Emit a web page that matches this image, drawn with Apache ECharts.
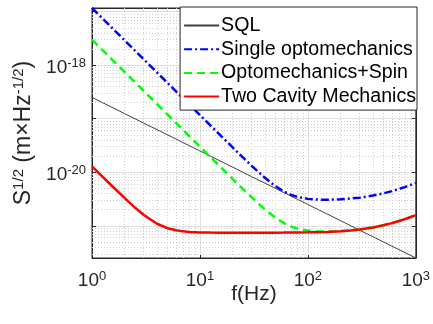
<!DOCTYPE html>
<html>
<head>
<meta charset="utf-8">
<script src="https://cdn.jsdelivr.net/npm/echarts@6/dist/echarts.min.js"></script>
<style>
  html, body { margin: 0; padding: 0; background: #fff; }
  #chart { width: 433px; height: 324px; }
</style>
</head>
<body>
<div id="chart"></div>
<script>
  const freq = [1, 1.25, 1.5, 2, 2.5, 3, 4, 5, 6, 7, 8, 10, 12.5, 15, 20, 25, 30, 40, 50, 60, 70, 80,
    100, 125, 150, 200, 250, 300, 400, 500, 600, 700, 800, 1000];

  // S^1/2 in m/sqrt(Hz)
  const sql = [2.5e-19, 2.0e-19, 1.67e-19, 1.25e-19, 1.0e-19, 8.3e-20, 6.25e-20, 5.0e-20, 4.17e-20, 3.57e-20,
    3.13e-20, 2.5e-20, 2.0e-20, 1.67e-20, 1.25e-20, 1.0e-20, 8.3e-21, 6.25e-21, 5.0e-21, 4.17e-21, 3.57e-21,
    3.13e-21, 2.5e-21, 2.0e-21, 1.67e-21, 1.25e-21, 1.0e-21, 8.3e-22, 6.25e-22, 5.0e-22, 4.17e-22, 3.57e-22,
    3.13e-22, 2.5e-22];

  const single = [1.17e-17, 7.49e-18, 5.2e-18, 2.93e-18, 1.87e-18, 1.3e-18, 7.31e-19, 4.68e-19, 3.25e-19, 2.39e-19,
    1.83e-19, 1.17e-19, 7.5e-20, 5.21e-20, 2.94e-20, 1.89e-20, 1.33e-20, 7.87e-21, 5.51e-21, 4.37e-21, 3.78e-21,
    3.46e-21, 3.18e-21, 3.08e-21, 3.06e-21, 3.12e-21, 3.23e-21, 3.35e-21, 3.67e-21, 4.03e-21, 4.44e-21, 4.88e-21,
    5.34e-21, 6.31e-21];

  const spin = [3.0e-18, 1.92e-18, 1.33e-18, 7.5e-19, 4.8e-19, 3.33e-19, 1.875e-19, 1.2e-19, 8.33e-20, 6.12e-20,
    4.69e-20, 3.0e-20, 1.92e-20, 1.34e-20, 7.54e-21, 4.86e-21, 3.42e-21, 2.02e-21, 1.41e-21, 1.12e-21, 9.66e-22,
    8.83e-22, 8.11e-22, 7.85e-22, 7.81e-22, 7.91e-22, 8.19e-22, 8.51e-22, 9.28e-22, 1.02e-21, 1.12e-21, 1.23e-21,
    1.34e-21, 1.58e-21];

  const twoCavity = [1.29e-20, 8.29e-21, 5.78e-21, 3.31e-21, 2.19e-21, 1.61e-21, 1.09e-21, 9.02e-22, 8.22e-22, 7.86e-22,
    7.67e-22, 7.52e-22, 7.45e-22, 7.43e-22, 7.41e-22, 7.41e-22, 7.41e-22, 7.42e-22, 7.43e-22, 7.45e-22, 7.47e-22,
    7.48e-22, 7.53e-22, 7.60e-22, 7.69e-22, 7.91e-22, 8.19e-22, 8.51e-22, 9.28e-22, 1.02e-21, 1.12e-21, 1.23e-21,
    1.34e-21, 1.58e-21];

  const names = ['SQL', 'Single optomechanics', 'Optomechanics+Spin', 'Two Cavity Mechanics'];

  // echarts' log scale chokes on 1e-22 sized numbers, so plot in units of 1e-22
  const UNIT_EXP = -22;
  const UNIT = 1e-22;
  const yMin = 2.5e-22, yMax = 1.17e-17;

  const FONT = '"Liberation Sans", Arial, sans-serif';
  const ink = '#262626';

  // dotted minor grid (2..9 x 10^k), like matlab
  const minorLines = [];
  for (let k = 0; k <= 5; k++) {
    for (let m = 2; m <= 9; m++) {
      const v = m * Math.pow(10, k);
      if (v > yMin / UNIT && v < yMax / UNIT) minorLines.push({ yAxis: v });
    }
  }
  for (let k = 0; k <= 2; k++) {
    for (let m = 2; m <= 9; m++) minorLines.push({ xAxis: m * Math.pow(10, k) });
  }

  const pairs = arr => freq.map((f, i) => [f, arr[i] / UNIT]);

  const supRich = {
    b: { fontSize: 19, lineHeight: 22, fontFamily: FONT, color: ink },
    s: { fontSize: 13, lineHeight: 16, verticalAlign: 'top', fontFamily: FONT, color: ink }
  };

  const tick = { inside: true, length: 4, lineStyle: { color: ink } };
  const line = { lineStyle: { color: ink } };
  const major = { show: true, lineStyle: { color: '#e0e0e0', width: 1 } };

  const chart = echarts.init(document.getElementById('chart'));
  chart.setOption({
    animation: false,
    backgroundColor: '#fff',
    grid: {
      left: 92, right: 16, top: 8, bottom: 66,
      show: true, borderColor: ink, borderWidth: 1
    },
    legend: {
      data: names,
      orient: 'vertical',
      right: 16, top: 7,
      backgroundColor: '#fff',
      borderColor: ink, borderWidth: 1, borderRadius: 0,
      padding: [8, 1, 3, 3],
      itemWidth: 35, itemHeight: 12, itemGap: 2.7,
      itemStyle: { opacity: 0 },
      textStyle: { fontSize: 19.6, fontFamily: FONT, color: '#000', lineHeight: 21, padding: [0, 0, 0, -3] }
    },
    xAxis: [
      {
        type: 'log', logBase: 10, min: 1, max: 1000,
        name: 'f(Hz)', nameLocation: 'middle', nameGap: 26, nameMoveOverlap: false,
        nameTextStyle: { fontSize: 21, fontFamily: FONT, color: ink },
        axisLine: line, axisTick: tick,
        axisLabel: {
          margin: 12,
          formatter: v => '{b|10}{s|' + Math.round(Math.log10(v)) + '}',
          rich: supRich
        },
        splitLine: major
      },
      {
        // mirrored ticks on top (matlab box)
        type: 'log', logBase: 10, min: 1, max: 1000, position: 'top',
        axisLine: line, axisTick: tick, axisLabel: { show: false }, splitLine: { show: false }
      }
    ],
    yAxis: [
      {
        type: 'log', logBase: 10, min: yMin / UNIT, max: yMax / UNIT,
        name: '{b|S}{s|1/2}{b| (m\u00d7Hz}{s|-1/2}{b|)}',
        nameLocation: 'middle', nameGap: 55, nameRotate: 90, nameMoveOverlap: false,
        nameTextStyle: {
          rich: {
            b: { fontSize: 23, lineHeight: 26, fontFamily: FONT, color: ink },
            s: { fontSize: 15, lineHeight: 17, verticalAlign: 'top', fontFamily: FONT, color: ink }
          }
        },
        axisLine: line, axisTick: tick,
        axisLabel: {
          margin: 6,
          padding: [5, 0, 0, 0],
          formatter: v => {
            const e = Math.log10(v);
            const r = Math.round(e);
            if (Math.abs(e - r) > 1e-6 || r % 2 !== 0) return '';
            return '{b|10}{s|' + (r + UNIT_EXP) + '}';
          },
          rich: supRich
        },
        splitLine: major
      },
      {
        // mirrored ticks on the right
        type: 'log', logBase: 10, min: yMin / UNIT, max: yMax / UNIT, position: 'right',
        axisLine: line, axisTick: tick, axisLabel: { show: false }, splitLine: { show: false }
      }
    ],
    series: [
      {
        name: names[0], type: 'line', data: pairs(sql), symbol: 'none',
        lineStyle: { color: '#404040', width: 1 }, itemStyle: { color: '#404040' },
        markLine: {
          silent: true, z: 1, symbol: ['none', 'none'], label: { show: false },
          lineStyle: { type: [1, 2], color: '#cfcfcf', width: 1 },
          emphasis: { disabled: true },
          data: minorLines
        }
      },
      {
        name: names[1], type: 'line', data: pairs(single), symbol: 'none',
        lineStyle: { color: '#0000ff', width: 2.5, type: [8, 3, 2, 3] }, itemStyle: { color: '#0000ff' }
      },
      {
        name: names[2], type: 'line', data: pairs(spin), symbol: 'none',
        lineStyle: { color: '#00ff00', width: 2.5, type: [8, 5] }, itemStyle: { color: '#00ff00' }
      },
      {
        name: names[3], type: 'line', data: pairs(twoCavity), symbol: 'none',
        lineStyle: { color: '#ff0000', width: 2.5 }, itemStyle: { color: '#ff0000' }
      }
    ]
  });
</script>
</body>
</html>
